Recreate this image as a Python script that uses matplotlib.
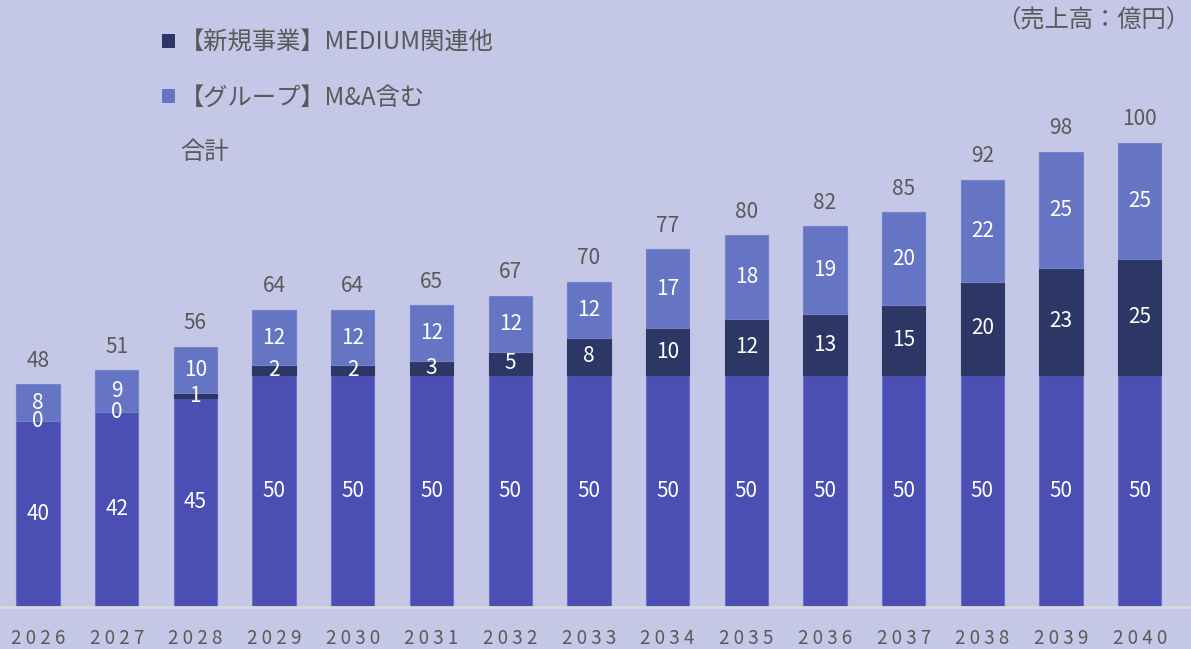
import matplotlib
matplotlib.use('Agg')
import matplotlib.pyplot as plt
from matplotlib.patches import Patch
from matplotlib.lines import Line2D

plt.rcParams['font.family'] = ['Noto Sans CJK JP', 'DejaVu Sans']

years = ['2026', '2027', '2028', '2029', '2030', '2031', '2032', '2033',
         '2034', '2035', '2036', '2037', '2038', '2039', '2040']
base = [40, 42, 45, 50, 50, 50, 50, 50, 50, 50, 50, 50, 50, 50, 50]
medium = [0, 0, 1, 2, 2, 3, 5, 8, 10, 12, 13, 15, 20, 23, 25]
group = [8, 9, 10, 12, 12, 12, 12, 12, 17, 18, 19, 20, 22, 25, 25]
totals = [48, 51, 56, 64, 64, 65, 67, 70, 77, 80, 82, 85, 92, 98, 100]

label_medium = '【新規事業】MEDIUM関連他'
label_group = '【グループ】M&A含む'
label_total = '合計'
unit_text = '（売上高：億円）'

bg = '#C4C7E5'
c_base = '#4B4FB3'
c_medium = '#2D3766'
c_group = '#6675C3'
gray = '#595959'

fig = plt.figure(figsize=(11.91, 6.49), dpi=100, facecolor=bg)
ax = fig.add_axes([0, 42 / 649, 1, 1 - 42 / 649])
ax.set_facecolor(bg)

x = list(range(len(years)))
w = 0.55
bottom2 = [b + m for b, m in zip(base, medium)]

b1 = ax.bar(x, base, w, color=c_base, edgecolor='#6A70C8', linewidth=0.8)
b2 = ax.bar(x, medium, w, bottom=base, color=c_medium, edgecolor=c_medium, linewidth=0.8)
b3 = ax.bar(x, group, w, bottom=bottom2, color=c_group, edgecolor='#7482CC', linewidth=0.8)

for cont in (b1, b2, b3):
    ax.bar_label(cont, label_type='center', color='white', fontsize=15)

for xi, t in zip(x, totals):
    ax.annotate(str(t), (xi, t), xytext=(0, 9), textcoords='offset points',
                ha='center', va='bottom', color=gray, fontsize=15)

ax.set_xlim(-0.483, -0.483 + 1191 / 78.7)
ax.set_ylim(0, 607 / 4.645)

ax.set_xticks(x)
ax.set_xticklabels([' '.join(y) for y in years], color=gray, fontsize=13.5)
ax.tick_params(axis='x', length=0, pad=15)
ax.set_yticks([])
for s in ['top', 'right', 'left']:
    ax.spines[s].set_visible(False)
ax.spines['bottom'].set_color('#D9D9D9')
ax.spines['bottom'].set_linewidth(2)

handles = [Patch(facecolor=c_medium), Patch(facecolor=c_group),
           Line2D([], [], linestyle='none')]
leg = ax.legend(handles, [label_medium, label_group, label_total],
                loc='upper left', bbox_to_anchor=(140 / 1191, 0.987),
                frameon=False, fontsize=17.5, labelcolor=gray,
                handlelength=0.55, handleheight=0.55, handletextpad=0.2,
                labelspacing=1.18)

fig.text(0.999, 1 - 21 / 649, unit_text, ha='right', va='center',
         color=gray, fontsize=17.5)

fig.savefig('out.png', dpi=100, facecolor=bg)
